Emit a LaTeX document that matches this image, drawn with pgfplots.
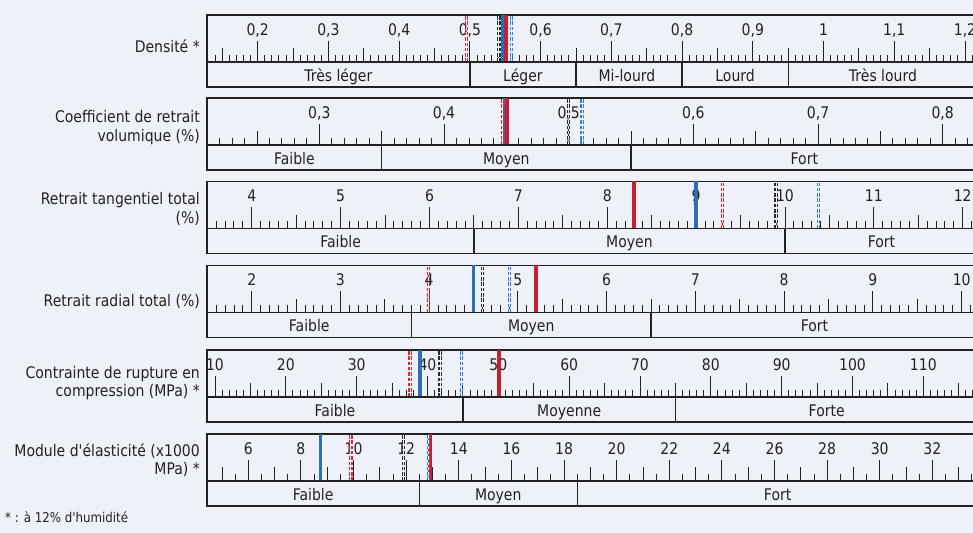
\documentclass[border=0pt]{standalone}
\usepackage{fontspec}
\setmainfont{DejaVu Sans}[FakeStretch=0.875, Ligatures=TeXOff]
\usepackage{pgfplots}
\pgfplotsset{compat=1.18}
\definecolor{bg}{HTML}{EEF2F8}
\definecolor{ink}{HTML}{222222}
\definecolor{rsol}{HTML}{C81E32}
\definecolor{bsol}{HTML}{2F6DB5}
\definecolor{rdash}{HTML}{E8242A}
\definecolor{bdash}{HTML}{3878D8}
\definecolor{kdash}{HTML}{2A2A2A}
\newcommand\lab{\fontsize{16bp}{18bp}\selectfont}
\newcommand\side{\fontsize{16bp}{18bp}\selectfont}
\tikzset{
  catlab/.style={font=\lab, text=ink, anchor=base, inner sep=0pt},
  rs/.style={draw=rsol, line width=3.5bp},
  bs/.style={draw=bsol, line width=3.5bp},
  rd/.style={draw=rdash, double=bg, double distance=1bp, line width=1.2bp, dash pattern=on 3.5bp off 1.8bp},
  bd/.style={draw=bdash, double=bg, double distance=1bp, line width=1.2bp, dash pattern=on 3.5bp off 1.8bp},
  kd/.style={draw=kdash, double=bg, double distance=1bp, line width=1.2bp, dash pattern=on 3.5bp off 1.8bp},
}
\pgfplotsset{
  rowtop/.style={
    scale only axis, width=771bp, height=47bp, anchor=south west,
    ymin=0, ymax=47, ytick=\empty,
    axis line style={line width=1.2bp, draw=ink},
    tick style={line width=0.9bp, draw=ink},
    tick align=inside, xtick pos=lower,
    major tick length=21bp, minor tick length=7bp,
    xticklabel style={anchor=base, yshift=26.5bp, font=\lab, text=ink, inner sep=0pt},
    extra x tick style={major tick length=13.5bp},
    extra x tick labels={},
  },
  rowbot/.style={
    scale only axis, width=771bp, height=25bp, anchor=south west,
    ymin=0, ymax=25, ytick=\empty,
    axis line style={line width=1.2bp, draw=ink},
    xmajorgrids, major grid style={line width=1.2bp, draw=ink},
    major tick length=0pt, xticklabels={},
  },
}
\begin{document}
\begin{tikzpicture}
\fill[bg] (0,0) rectangle (973bp,533bp);

% ---------- Row 1 : Densité ----------
\begin{axis}[rowtop, at={(207bp,471bp)}, xmin=0.1283, xmax=1.2184,
  xtick={0.2,0.3,0.4,0.5,0.6,0.7,0.8,0.9,1.0,1.1,1.2},
  xticklabels={{0,2},{0,3},{0,4},{0,5},{0,6},{0,7},{0,8},{0,9},{1},{1,1},{1,2}},
  extra x ticks={0.15,0.25,0.35,0.45,0.55,0.65,0.75,0.85,0.95,1.05,1.15},
  minor xtick={0.14,0.15,...,1.21}]
\addplot[bs, no marks] coordinates {(0.547,0) (0.547,47)};
\addplot[rs, no marks] coordinates {(0.551,0) (0.551,47)};
\addplot[rd, no marks] coordinates {(0.4955,0) (0.4955,47)};
\addplot[kd, no marks] coordinates {(0.541,0) (0.541,47)};
\addplot[bd, no marks] coordinates {(0.559,0) (0.559,47)};
\end{axis}
\begin{axis}[rowbot, at={(207bp,446bp)}, xmin=0.1283, xmax=1.2184,
  xtick={0.5,0.65,0.8,0.95}]
\node[catlab] at (axis cs:0.314,5.5) {Très léger};
\node[catlab] at (axis cs:0.575,5.5) {Léger};
\node[catlab] at (axis cs:0.722,5.5) {Mi-lourd};
\node[catlab] at (axis cs:0.875,5.5) {Lourd};
\node[catlab] at (axis cs:1.084,5.5) {Très lourd};
\end{axis}

% ---------- Row 2 : Retrait volumique ----------
\begin{axis}[rowtop, at={(207bp,388bp)}, xmin=0.2099, xmax=0.8283,
  xtick={0.3,0.4,0.5,0.6,0.7,0.8},
  xticklabels={{0,3},{0,4},{0,5},{0,6},{0,7},{0,8}},
  extra x ticks={0.25,0.35,0.45,0.55,0.65,0.75},
  minor xtick={0.21,0.22,...,0.82}]
\addplot[bs, no marks] coordinates {(0.4489,0) (0.4489,47)};
\addplot[rs, no marks] coordinates {(0.4505,0) (0.4505,47)};
\addplot[rd, no marks] coordinates {(0.4471,0) (0.4471,47)};
\addplot[kd, no marks] coordinates {(0.4998,0) (0.4998,47)};
\addplot[bd, no marks] coordinates {(0.5107,0) (0.5107,47)};
\end{axis}
\begin{axis}[rowbot, at={(207bp,363bp)}, xmin=0.2099, xmax=0.8283,
  xtick={0.35,0.55}]
\node[catlab] at (axis cs:0.28,5.5) {Faible};
\node[catlab] at (axis cs:0.45,5.5) {Moyen};
\node[catlab] at (axis cs:0.689,5.5) {Fort};
\end{axis}

% ---------- Row 3 : Retrait tangentiel ----------
\begin{axis}[rowtop, at={(207bp,304.5bp)}, xmin=3.497, xmax=12.172,
  xtick={4,5,...,12},
  xticklabels={4,5,6,7,8,9,10,11,12},
  extra x ticks={4.5,5.5,...,11.5},
  minor xtick={3.6,3.7,...,12.1}]
\addplot[rs, no marks] coordinates {(8.30,0) (8.30,47)};
\addplot[bs, no marks] coordinates {(9.0,0) (9.0,47)};
\addplot[rd, no marks] coordinates {(9.30,0) (9.30,47)};
\addplot[kd, no marks] coordinates {(9.90,0) (9.90,47)};
\addplot[bd, no marks] coordinates {(10.38,0) (10.38,47)};
\end{axis}
\begin{axis}[rowbot, at={(207bp,279.5bp)}, xmin=3.497, xmax=12.172,
  xtick={6.5,10}]
\node[catlab] at (axis cs:5.0,5.5) {Faible};
\node[catlab] at (axis cs:8.25,5.5) {Moyen};
\node[catlab] at (axis cs:11.086,5.5) {Fort};
\end{axis}

% ---------- Row 4 : Retrait radial ----------
\begin{axis}[rowtop, at={(207bp,220.5bp)}, xmin=1.4963, xmax=10.184,
  xtick={2,3,...,10},
  xticklabels={2,3,4,5,6,7,8,9,10},
  extra x ticks={2.5,3.5,...,9.5},
  minor xtick={1.6,1.7,...,10.1}]
\addplot[bs, no marks] coordinates {(4.497,0) (4.497,47)};
\addplot[rs, no marks] coordinates {(5.203,0) (5.203,47)};
\addplot[rd, no marks] coordinates {(3.994,0) (3.994,47)};
\addplot[kd, no marks] coordinates {(4.603,0) (4.603,47)};
\addplot[bd, no marks] coordinates {(4.903,0) (4.903,47)};
\end{axis}
\begin{axis}[rowbot, at={(207bp,195.5bp)}, xmin=1.4963, xmax=10.184,
  xtick={3.8,6.5}]
\node[catlab] at (axis cs:2.648,5.5) {Faible};
\node[catlab] at (axis cs:5.15,5.5) {Moyen};
\node[catlab] at (axis cs:8.342,5.5) {Fort};
\end{axis}

% ---------- Row 5 : Compression ----------
\begin{axis}[rowtop, at={(207bp,136bp)}, xmin=8.871, xmax=117.72,
  xtick={10,20,...,110},
  xticklabels={10,20,30,40,50,60,70,80,90,100,110},
  extra x ticks={15,25,...,115},
  minor xtick={9,10,...,117}]
\addplot[bs, no marks] coordinates {(38.94,0) (38.94,47)};
\addplot[rs, no marks] coordinates {(50.1,0) (50.1,47)};
\addplot[rd, no marks] coordinates {(37.53,0) (37.53,47)};
\addplot[kd, no marks] coordinates {(41.77,0) (41.77,47)};
\addplot[bd, no marks] coordinates {(44.83,0) (44.83,47)};
\end{axis}
\begin{axis}[rowbot, at={(207bp,111bp)}, xmin=8.871, xmax=117.72,
  xtick={45,75}]
\node[catlab] at (axis cs:26.94,5.5) {Faible};
\node[catlab] at (axis cs:60,5.5) {Moyenne};
\node[catlab] at (axis cs:96.36,5.5) {Forte};
\end{axis}

% ---------- Row 6 : Module d'élasticité ----------
\begin{axis}[rowtop, at={(207bp,52bp)}, xmin=4.43, xmax=33.735,
  xtick={6,8,...,32},
  xticklabels={6,8,10,12,14,16,18,20,22,24,26,28,30,32},
  extra x ticks={5,7,...,33},
  minor xtick={5,5.5,...,33.5}]
\addplot[bs, no marks] coordinates {(8.75,0) (8.75,47)};
\addplot[rs, no marks] coordinates {(12.91,0) (12.91,47)};
\addplot[rd, no marks] coordinates {(9.90,0) (9.90,47)};
\addplot[kd, no marks] coordinates {(11.89,0) (11.89,47)};
\addplot[bd, no marks] coordinates {(12.84,0) (12.84,47)};
\end{axis}
\begin{axis}[rowbot, at={(207bp,27bp)}, xmin=4.43, xmax=33.735,
  xtick={12.5,18.5}]
\node[catlab] at (axis cs:8.465,5.5) {Faible};
\node[catlab] at (axis cs:15.5,5.5) {Moyen};
\node[catlab] at (axis cs:26.12,5.5) {Fort};
\end{axis}

% ---------- Row titles ----------
\begin{scope}[every node/.style={anchor=mid east, inner sep=0pt, font=\side, text=ink}]
\node at (200bp,483bp) {Densité *};
\node at (200bp,413bp) {Coefficient de retrait};
\node at (200bp,394bp) {volumique (\%)};
\node at (200bp,331bp) {Retrait tangentiel total};
\node at (200bp,312bp) {(\%)};
\node at (200bp,229bp) {Retrait radial total (\%)};
\node at (200bp,157bp) {Contrainte de rupture en};
\node at (200bp,139bp) {compression (MPa) *};
\node at (200bp,79bp) {Module d'élasticité (x1000};
\node at (200bp,61bp) {MPa) *};
\end{scope}
\node[anchor=mid west, inner sep=0pt, font=\fontsize{13.5bp}{15bp}\selectfont, text=ink] at (5bp,13bp) {* : à 12\% d'humidité};

\pgfresetboundingbox
\path[use as bounding box] (0,0) rectangle (973bp,533bp);
\end{tikzpicture}
\end{document}
